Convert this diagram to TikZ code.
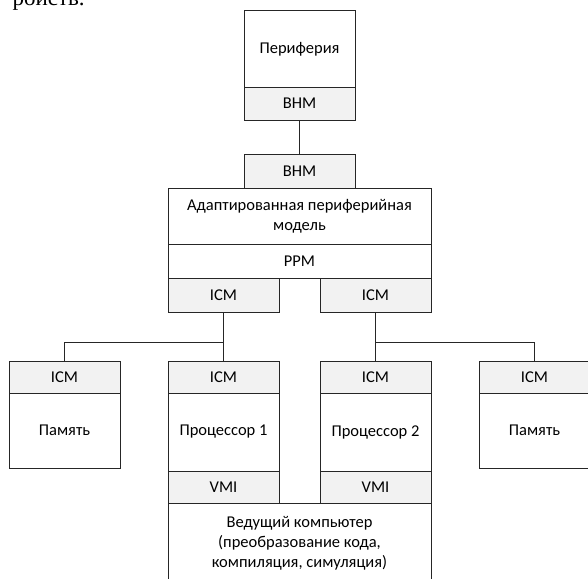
\documentclass[tikz,border=0pt]{standalone}
\usepackage{fontspec}
\setmainfont{Carlito}
\newfontfamily\fragfont{Liberation Serif}
\definecolor{portgray}{HTML}{F2F2F2}
\definecolor{edgegray}{HTML}{262626}
\begin{document}
\begin{tikzpicture}[x=1pt, y=-1pt,
	blok/.style={draw=edgegray, line width=1pt, fill=white, inner sep=0pt,
		align=center, minimum width=111pt, font=\fontsize{16.5}{20}\selectfont},
	port/.style={blok, fill=portgray, minimum height=32pt},
	large/.style={minimum width=263pt},
	wire/.style={draw=edgegray, line width=1pt}]
	\clip (0,0) rectangle (588,578);
	\node[anchor=base west, font=\fragfont\fontsize{23}{26}\selectfont] (frag) at (9,5.5) {ройств.};
	
	\node[blok, minimum height=76pt] (per) at (299.5,49) {Периферия};
	\node[port, minimum height=33pt] (bhm1) at (299.5,103.5) {BHM};
	\node[port, minimum height=34pt] (bhm2) at (299.5,171) {BHM};
	\node[blok, large, minimum height=56pt] (apm) at (299.5,216) {Адаптированная периферийная\\модель};
	\node[blok, large, minimum height=34pt] (ppm) at (299.5,261) {PPM};
	\node[port, minimum height=34pt] (icmL) at (223.5,295) {ICM};
	\node[port, minimum height=34pt] (icmR) at (375.5,295) {ICM};
	
	\node[port] (mem1icm) at (64.5,377) {ICM};
	\node[blok, minimum height=75pt] (mem1) at (64.5,430.5) {Память};
	\node[port] (cpu1icm) at (223.5,377) {ICM};
	\node[blok, minimum height=78pt] (cpu1) at (223.5,432) {Процессор 1};
	\node[port] (vmi1) at (223.5,487) {VMI};
	\node[port] (cpu2icm) at (375.5,377) {ICM};
	\node[blok, minimum height=78pt] (cpu2) at (375.5,432) {Процессор 2};
	\node[port] (vmi2) at (375.5,487) {VMI};
	\node[port] (mem2icm) at (534.5,377) {ICM};
	\node[blok, minimum height=75pt] (mem2) at (534.5,430.5) {Память};
	
	\node[blok, large, minimum height=80pt] (host) at (299.5,543) {Ведущий компьютер\\(преобразование кода,\\компиляция, симуляция)};
	
	\coordinate (busL) at (223.5,342);
	\coordinate (busR) at (375.5,342);
	\path[wire] (bhm1) -- (bhm2);
	\path[wire] (icmL) -- (cpu1icm);
	\path[wire] (icmR) -- (cpu2icm);
	\path[wire] (mem1icm) |- (busL);
	\path[wire] (mem2icm) |- (busR);
\end{tikzpicture}
\end{document}
